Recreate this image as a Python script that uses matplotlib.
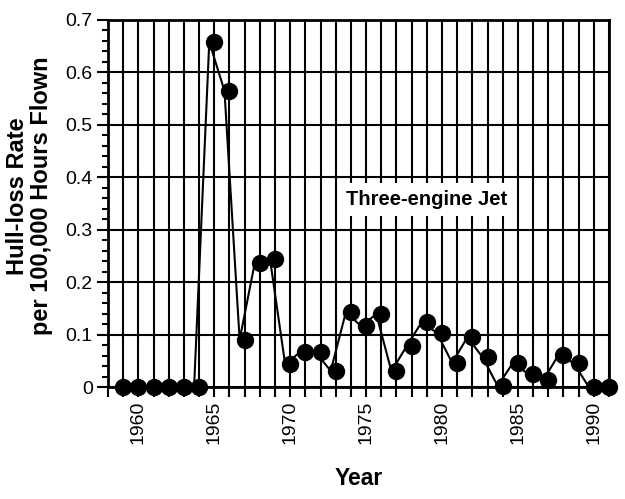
import matplotlib
matplotlib.use("Agg")
import matplotlib.pyplot as plt
import matplotlib.transforms as mtransforms
from matplotlib.ticker import MultipleLocator, FuncFormatter

plt.rcParams['font.family'] = ['Liberation Sans', 'DejaVu Sans']

# hull-loss rate of three-engine jets, per 100,000 hours flown
years = list(range(1959, 1992))
rate = [0.0, 0.0, 0.0, 0.0, 0.0, 0.0,
        0.658, 0.565, 0.090, 0.237, 0.244, 0.043, 0.067, 0.066, 0.031,
        0.143, 0.116, 0.139, 0.030, 0.078, 0.124, 0.103, 0.046, 0.095,
        0.057, 0.002, 0.046, 0.025, 0.013, 0.061, 0.046, 0.0, 0.0]
label_years = [1960, 1965, 1970, 1975, 1980, 1985, 1990]

fig = plt.figure(figsize=(6.25, 4.99), dpi=100)
ax = fig.add_axes([0.1728, 0.2244, 0.8016, 0.7356])

ax.set_xlim(1958, 1991)
ax.set_ylim(0, 0.7)

# year grid + ticks below the axis
tick_years = list(range(1958, 1992))
ax.set_xticks(tick_years)
ax.set_xticklabels([str(y) if y in label_years else '' for y in tick_years],
                   rotation=90, fontsize=14)
ax.tick_params(axis='x', direction='out', length=7, width=1.5, pad=3,
               color='black')

ax.yaxis.set_major_locator(MultipleLocator(0.1))
ax.yaxis.set_minor_locator(MultipleLocator(0.02))
ax.yaxis.set_major_formatter(FuncFormatter(lambda v, p: '0' if abs(v) < 1e-9 else f'{v:.1f}'))
ax.tick_params(axis='y', which='major', direction='out', length=8, width=1.5,
               labelsize=14, pad=3)
ax.tick_params(axis='y', which='minor', direction='out', length=4, width=1.5)

ax.grid(True, which='major', color='black', linewidth=1.5)
ax.set_axisbelow(True)
for sp in ax.spines.values():
    sp.set_linewidth(2)

# connecting line is drawn a few pixels left of the markers
line_tr = mtransforms.offset_copy(ax.transData, fig=fig, x=-5, y=0, units='dots')
ax.plot(years, rate, color='black', linewidth=1.5, transform=line_tr,
        clip_on=False, zorder=3)
ax.plot(years, rate, 'o', color='black', markersize=11.5, clip_on=False,
        zorder=4)

ax.text(1979, 0.357, 'Three-engine Jet', ha='center', va='center',
        fontsize=14.5, fontweight='bold', zorder=5,
        bbox=dict(facecolor='white', edgecolor='none', pad=5))

ax.set_xlabel('Year', fontsize=16.5, fontweight='bold', labelpad=16)
ax.set_ylabel('Hull-loss Rate\nper 100,000 Hours Flown', fontsize=17,
              fontweight='bold', labelpad=9, linespacing=1.05)
ax.yaxis.label.set_y(0.52)

fig.savefig('out.png', dpi=100)
